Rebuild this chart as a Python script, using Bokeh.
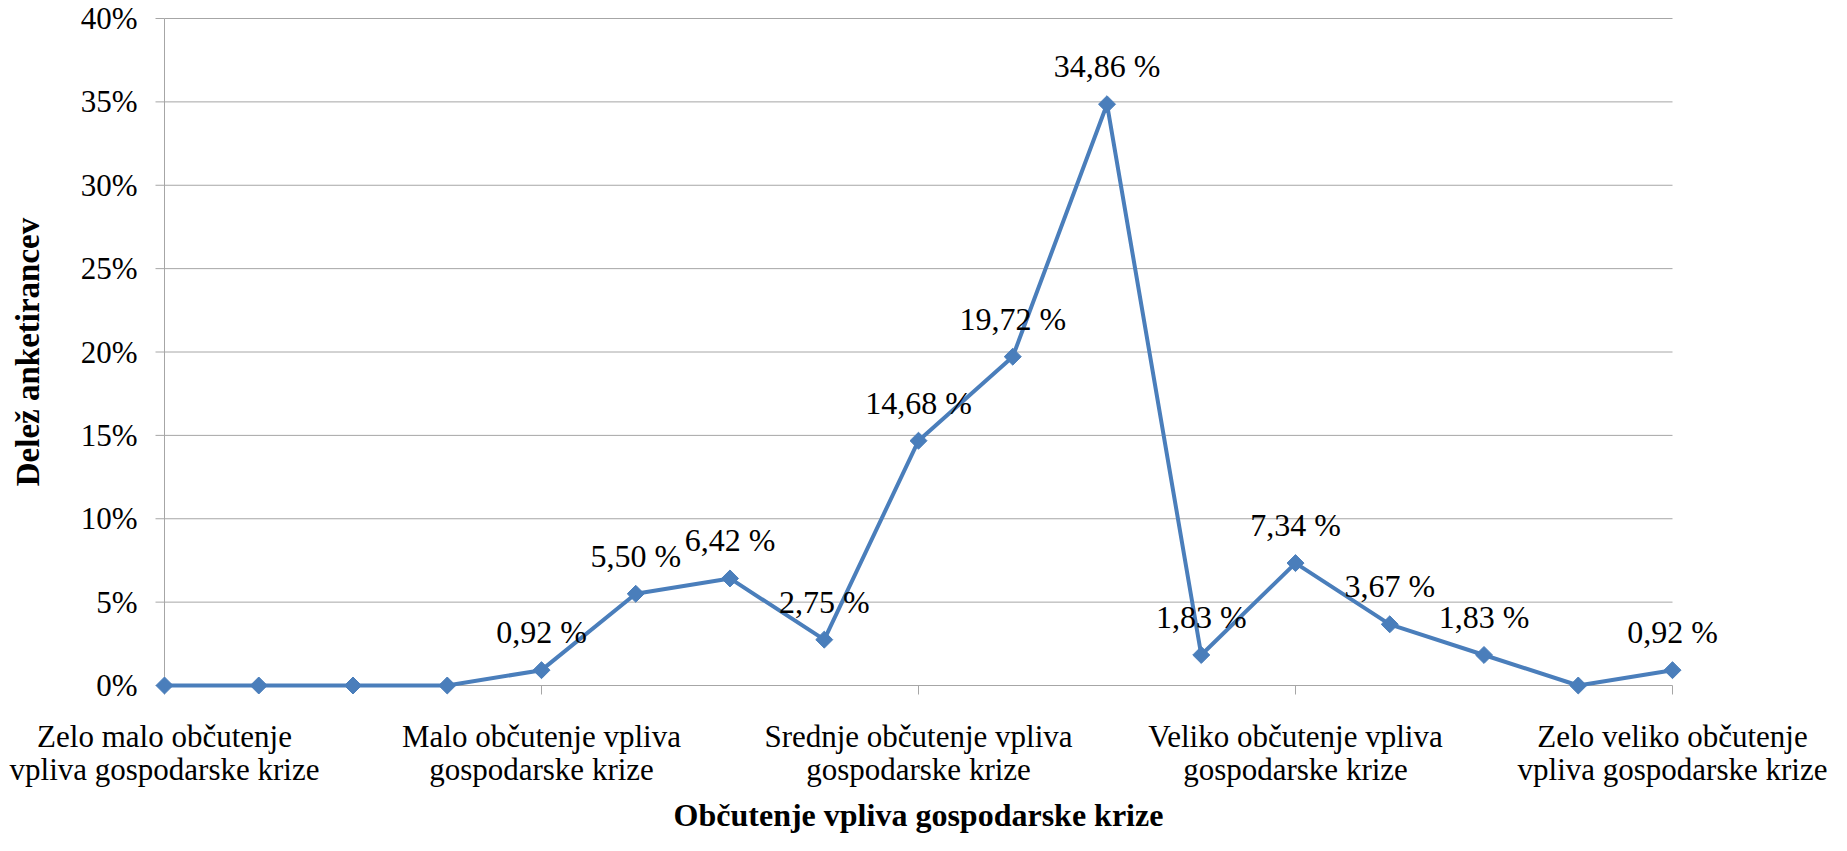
from bokeh.plotting import figure
from bokeh.models import Range1d, ColumnDataSource
from bokeh.embed import file_html
from bokeh.resources import INLINE
from bokeh.core.properties import value
import math

# ---- data ----
positions = list(range(1, 18))
shares = [0, 0, 0, 0, 0.92, 5.50, 6.42, 2.75, 14.68, 19.72, 34.86, 1.83, 7.34, 3.67, 1.83, 0, 0.92]
category_ticks = [1, 5, 9, 13, 17]
category_line1 = ["Zelo malo občutenje", "Malo občutenje vpliva", "Srednje občutenje vpliva",
                  "Veliko občutenje vpliva", "Zelo veliko občutenje"]
category_line2 = ["vpliva gospodarske krize", "gospodarske krize", "gospodarske krize",
                  "gospodarske krize", "vpliva gospodarske krize"]
y_ticks = [0, 5, 10, 15, 20, 25, 30, 35, 40]
y_tick_labels = ["0%", "5%", "10%", "15%", "20%", "25%", "30%", "35%", "40%"]
x_title = "Občutenje vpliva gospodarske krize"
y_title = "Delež anketirancev"

FONT = value("Liberation Serif")
LINE_COLOR = "#4A7EBB"
GRID = "#A6A6A6"

# ---- layout (canvas pixels) ----
W, H = 1831, 835
PLOT_L, PLOT_R = 164, 1672   # pixel of first / last category
PLOT_T, PLOT_B = 18, 685     # pixel of top / bottom y tick
TICK = 9

x0, x1 = positions[0], positions[-1]
y0, y1 = y_ticks[0], y_ticks[-1]
xs = (PLOT_R - PLOT_L) / (x1 - x0)    # px per unit
ys = (PLOT_B - PLOT_T) / (y1 - y0)

p = figure(
    width=W, height=H, min_border=0,
    x_range=Range1d(x0 - PLOT_L / xs, x1 + (W - PLOT_R) / xs),
    y_range=Range1d(y0 - (H - PLOT_B) / ys, y1 + PLOT_T / ys),
    x_axis_location=None, y_axis_location=None,
    output_backend="svg", toolbar_location=None,
)
p.outline_line_color = None
p.grid.visible = False
p.background_fill_color = "white"
p.border_fill_color = "white"

# horizontal gridlines (the 0 line doubles as the x axis)
p.segment(x0=[x0] * len(y_ticks), y0=y_ticks, x1=[x1] * len(y_ticks), y1=y_ticks,
          line_color=GRID, line_width=1)
# y axis line and its ticks
p.segment(x0=[x0], y0=[y0], x1=[x0], y1=[y1], line_color=GRID, line_width=1)
p.segment(x0=[x0 - TICK / xs] * len(y_ticks), y0=y_ticks, x1=[x0] * len(y_ticks), y1=y_ticks,
          line_color=GRID, line_width=1)
# x axis ticks
p.segment(x0=category_ticks, y0=[y0] * len(category_ticks), x1=category_ticks,
          y1=[y0 - TICK / ys] * len(category_ticks), line_color=GRID, line_width=1)

# y tick labels
p.text(x=[x0] * len(y_ticks), y=y_ticks, text=y_tick_labels, x_offset=-27,
       text_align="right", text_baseline="middle", text_font=FONT,
       text_font_size="31px", text_color="black")

# category labels (two lines each)
p.text(x=category_ticks, y=[y0] * len(category_ticks), text=category_line1, y_offset=51,
       text_align="center", text_baseline="middle", text_font=FONT,
       text_font_size="31px", text_color="black")
p.text(x=category_ticks, y=[y0] * len(category_ticks), text=category_line2, y_offset=84,
       text_align="center", text_baseline="middle", text_font=FONT,
       text_font_size="31px", text_color="black")

# axis titles
p.text(x=[(x0 + x1) / 2], y=[y0], text=[x_title], y_offset=129,
       text_align="center", text_baseline="middle", text_font=FONT,
       text_font_size="32px", text_font_style="bold", text_color="black")
p.text(x=[x0], y=[(y0 + y1) / 2], text=[y_title], x_offset=-137, angle=math.pi / 2,
       text_align="center", text_baseline="middle", text_font=FONT,
       text_font_size="33px", text_font_style="bold", text_color="black")

# series
src = ColumnDataSource(dict(x=positions, y=shares))
p.line("x", "y", source=src, line_color=LINE_COLOR, line_width=4)
p.scatter("x", "y", source=src, marker="square", size=12, angle=math.pi / 4,
          fill_color=LINE_COLOR, line_color=LINE_COLOR)

# data labels (zero values carry no label)
lx = [x for x, v in zip(positions, shares) if v > 0]
ly = [v for v in shares if v > 0]
lt = [f"{v:.2f}".replace(".", ",") + " %" for v in ly]
lsrc = ColumnDataSource(dict(x=lx, y=ly, t=lt))
p.text("x", "y", text="t", source=lsrc, y_offset=-38, text_align="center",
       text_baseline="middle", text_font=FONT, text_font_size="32px", text_color="black")

open("out.html", "w").write(file_html(p, INLINE))
